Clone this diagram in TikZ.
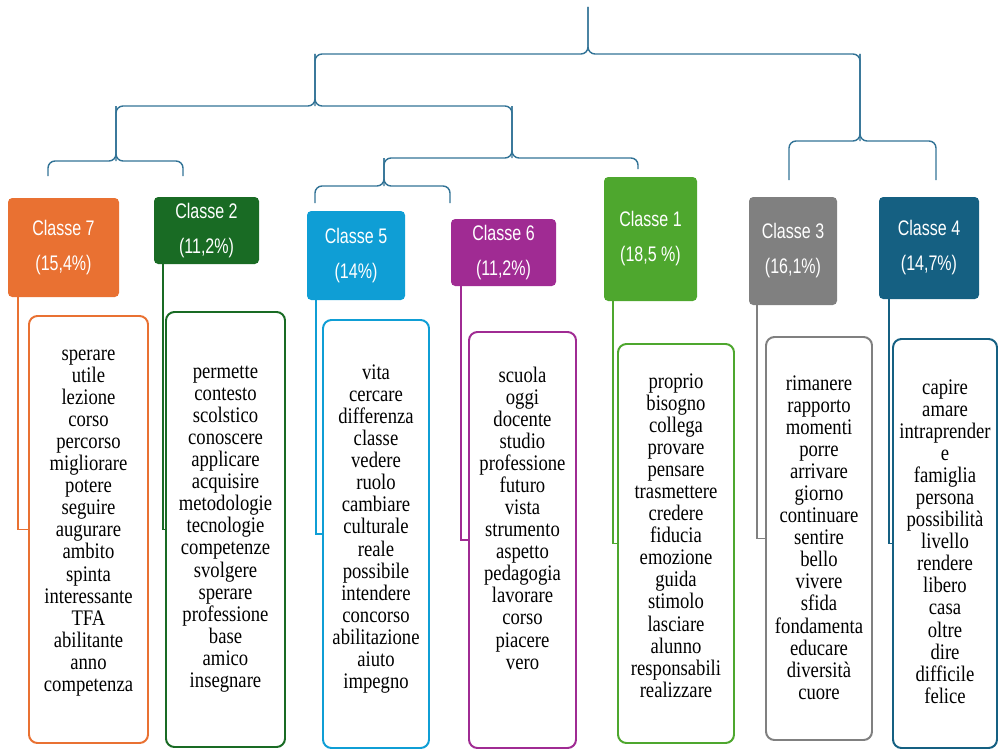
\documentclass[tikz,border=0pt]{standalone}
\usepackage{fontspec}
\setmainfont{Liberation Serif}[FakeStretch=0.84]
\newfontfamily\headfont{Liberation Sans}[FakeStretch=0.76]
\usetikzlibrary{positioning}
\definecolor{boxorange}{RGB}{233,113,50}
\definecolor{boxdarkgreen}{RGB}{25,107,36}
\definecolor{boxcyan}{RGB}{15,158,213}
\definecolor{boxpurple}{RGB}{160,43,147}
\definecolor{boxgreen}{RGB}{78,167,46}
\definecolor{boxgray}{RGB}{128,128,128}
\definecolor{boxnavy}{RGB}{21,96,130}
\definecolor{treeblue}{RGB}{50,115,150}
\newdimen\px \px=0.025cm

\begin{document}
\begin{tikzpicture}[
    x=0.025cm, y=-0.025cm,
    head/.style={rectangle, rounded corners=3pt, fill=#1, text=white, align=center,
                 font=\headfont\fontsize{15}{24.9}\selectfont, inner sep=0pt},
    wbox/.style={rectangle, rounded corners=6pt, draw=#1, line width=1.4pt, fill=white},
    wlist/.style={align=center, font=\fontsize{15.8}{15.7}\selectfont, inner sep=0pt},
    link/.style={draw=#1, line width=1.4pt},
    dendro/.style={draw=treeblue, line width=1pt, rounded corners=5pt}
]
    \useasboundingbox (0,0) rectangle (998,749);

    % dendrogram
    \coordinate (r0) at (588,7);
    \coordinate (j0) at (588,54);  \coordinate (j1) at (315,106);
    \coordinate (j2) at (860,141); \coordinate (j3) at (116,161);
    \coordinate (j4) at (512,158); \coordinate (j5) at (384,186);
    \coordinate (l7) at (48,176);  \coordinate (l2) at (183,176);
    \coordinate (l5) at (315,203); \coordinate (l6) at (450,203);
    \coordinate (l1) at (638,169); \coordinate (l3) at (789,180);
    \coordinate (l4) at (936,180);
    \draw[dendro] (j1) |- (j0) -- (r0); \draw[dendro] (j2) |- (j0) -- (r0);
    \draw[dendro] (j3) |- (j1) -- (j1 |- j0); \draw[dendro] (j4) |- (j1) -- (j1 |- j0);
    \draw[dendro] (l7) |- (j3) -- (j3 |- j1); \draw[dendro] (l2) |- (j3) -- (j3 |- j1);
    \draw[dendro] (j5) |- (j4) -- (j4 |- j1); \draw[dendro] (l1) |- (j4) -- (j4 |- j1);
    \draw[dendro] (l5) |- (j5) -- (j5 |- j4); \draw[dendro] (l6) |- (j5) -- (j5 |- j4);
    \draw[dendro] (l3) |- (j2) -- (j2 |- j0); \draw[dendro] (l4) |- (j2) -- (j2 |- j0);

    % class headers
    \node[head=boxorange, minimum width=111\px, minimum height=99\px] (h7) at (63.5,247.5) {Classe 7\\(15,4\%)};
    \node[head=boxdarkgreen, minimum width=105\px, minimum height=67\px] (h2) at (206.5,230.5) {Classe 2\\(11,2\%)};
    \node[head=boxcyan, minimum width=98\px, minimum height=89\px] (h5) at (356,255.5) {Classe 5\\(14\%)};
    \node[head=boxpurple, minimum width=105\px, minimum height=67\px] (h6) at (503.5,252.5) {Classe 6\\(11,2\%)};
    \node[head=boxgreen, minimum width=93\px, minimum height=124\px] (h1) at (650.5,239) {Classe 1\\(18,5 \%)};
    \node[head=boxgray, minimum width=88\px, minimum height=108\px] (h3) at (793,251) {Classe 3\\(16,1\%)};
    \node[head=boxnavy, minimum width=100\px, minimum height=102\px] (h4) at (929,248) {Classe 4\\(14,7\%)};

    % word boxes
    \node[wbox=boxorange, minimum width=119\px, minimum height=427\px] (w7) at (88.5,529.5) {};
    \node[wbox=boxdarkgreen, minimum width=119\px, minimum height=435\px] (w2) at (225.5,529.5) {};
    \node[wbox=boxcyan, minimum width=106\px, minimum height=428\px] (w5) at (376,534) {};
    \node[wbox=boxpurple, minimum width=107\px, minimum height=416\px] (w6) at (522.5,540) {};
    \node[wbox=boxgreen, minimum width=116\px, minimum height=399\px] (w1) at (676,543.5) {};
    \node[wbox=boxgray, minimum width=106\px, minimum height=403\px] (w3) at (819,538.5) {};
    \node[wbox=boxnavy, minimum width=104\px, minimum height=409\px] (w4) at (945,543.5) {};

    \node[wlist] (t7) at (88.5,523) {sperare\\utile\\lezione\\corso\\percorso\\migliorare\\potere\\seguire\\augurare\\ambito\\spinta\\interessante\\TFA\\abilitante\\anno\\competenza};
    \node[wlist] (t2) at (225.5,529) {permette\\contesto\\scolstico\\conoscere\\applicare\\acquisire\\metodologie\\tecnologie\\competenze\\svolgere\\sperare\\professione\\base\\amico\\insegnare};
    \node[wlist] (t5) at (376,529) {vita\\cercare\\differenza\\classe\\vedere\\ruolo\\cambiare\\culturale\\reale\\possibile\\intendere\\concorso\\abilitazione\\aiuto\\impegno};
    \node[wlist] (t6) at (522.5,518) {scuola\\oggi\\docente\\studio\\professione\\futuro\\vista\\strumento\\aspetto\\pedagogia\\lavorare\\corso\\piacere\\vero};
    \node[wlist] (t1) at (676,535.5) {proprio\\bisogno\\collega\\provare\\pensare\\trasmettere\\credere\\fiducia\\emozione\\guida\\stimolo\\lasciare\\alunno\\responsabili\\realizzare};
    \node[wlist] (t3) at (819,537.5) {rimanere\\rapporto\\momenti\\porre\\arrivare\\giorno\\continuare\\sentire\\bello\\vivere\\sfida\\fondamenta\\educare\\diversità\\cuore};
    \node[wlist] (t4) at (945,541.5) {capire\\amare\\intraprender\\e\\famiglia\\persona\\possibilità\\livello\\rendere\\libero\\casa\\oltre\\dire\\difficile\\felice};

    % links header -> words
    \draw[link=boxorange] ([xshift=10\px]h7.south west) |- (w7.west);
    \draw[link=boxdarkgreen] ([xshift=9\px]h2.south west) |- (w2.west);
    \draw[link=boxcyan] ([xshift=9\px]h5.south west) |- (w5.west);
    \draw[link=boxpurple] ([xshift=10\px]h6.south west) |- (w6.west);
    \draw[link=boxgreen] ([xshift=9\px]h1.south west) |- (w1.west);
    \draw[link=boxgray] ([xshift=8\px]h3.south west) |- (w3.west);
    \draw[link=boxnavy] ([xshift=10\px]h4.south west) |- (w4.west);
\end{tikzpicture}
\end{document}
